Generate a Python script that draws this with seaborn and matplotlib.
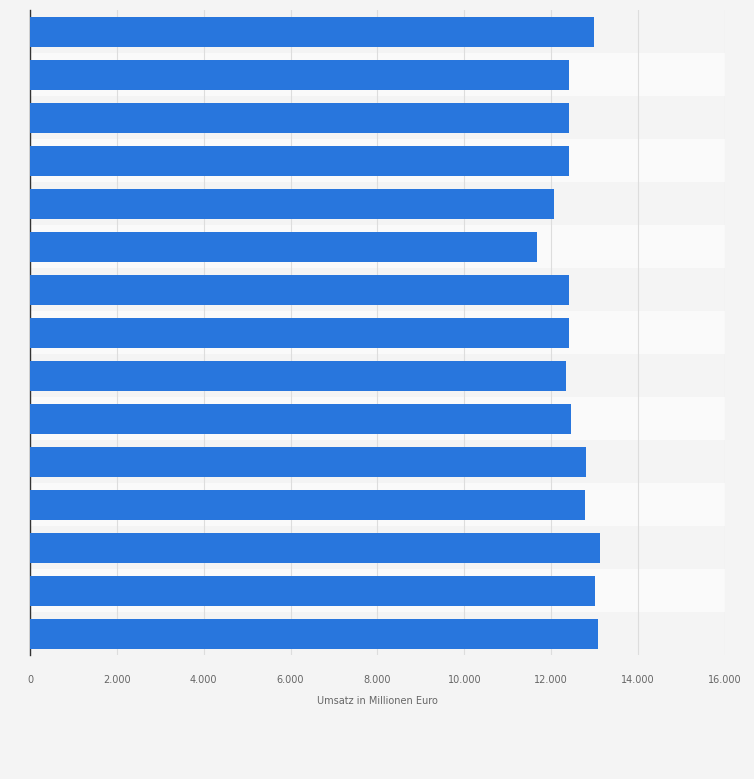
import numpy as np
import pandas as pd
import matplotlib
matplotlib.use("Agg")
import matplotlib.pyplot as plt
import seaborn as sns

# Umsatz in Millionen Euro, von oben nach unten
rows = [f"r{i}" for i in range(15)]
umsatz = [12990, 12410, 12410, 12410, 12060, 11670, 12410, 12410,
          12340, 12450, 12800, 12780, 13120, 13010, 13080]
x_ticks = [0, 2000, 4000, 6000, 8000, 10000, 12000, 14000, 16000]

df = pd.DataFrame({"row": rows, "umsatz": umsatz})

fig = plt.figure(figsize=(7.54, 7.79), dpi=100)
fig.patch.set_facecolor("#f4f4f4")
ax = fig.add_axes([0.0398, 0.159, 0.9217, 0.828])
ax.set_facecolor("#f4f4f4")

for i in range(len(rows)):
    ax.axhspan(i - 0.5, i + 0.5, color="#fafafa" if i % 2 else "#f4f4f4", zorder=0, lw=0)

sns.barplot(data=df, x="umsatz", y="row", color="#2876dd", width=0.7,
            saturation=1, ax=ax, zorder=3)

ax.set_xlim(0, 16000)
ax.set_ylim(len(rows) - 0.5, -0.5)
ax.set_xticks(x_ticks)
ax.set_xticklabels([f"{v:,}".replace(",", ".") for v in x_ticks],
                   fontsize=7, color="#666666")
ax.set_yticks([])
ax.set_ylabel("")
ax.set_xlabel("Umsatz in Millionen Euro", fontsize=7, color="#666666", labelpad=8)
ax.tick_params(axis="x", length=0, pad=14)
ax.grid(axis="x", color="#dddddd", lw=0.8, zorder=1)
ax.set_axisbelow(True)
for s in ["top", "right", "bottom"]:
    ax.spines[s].set_visible(False)
ax.spines["left"].set_color("#333333")
ax.spines["left"].set_linewidth(1)

fig.savefig("out.png", dpi=100, facecolor=fig.get_facecolor())
